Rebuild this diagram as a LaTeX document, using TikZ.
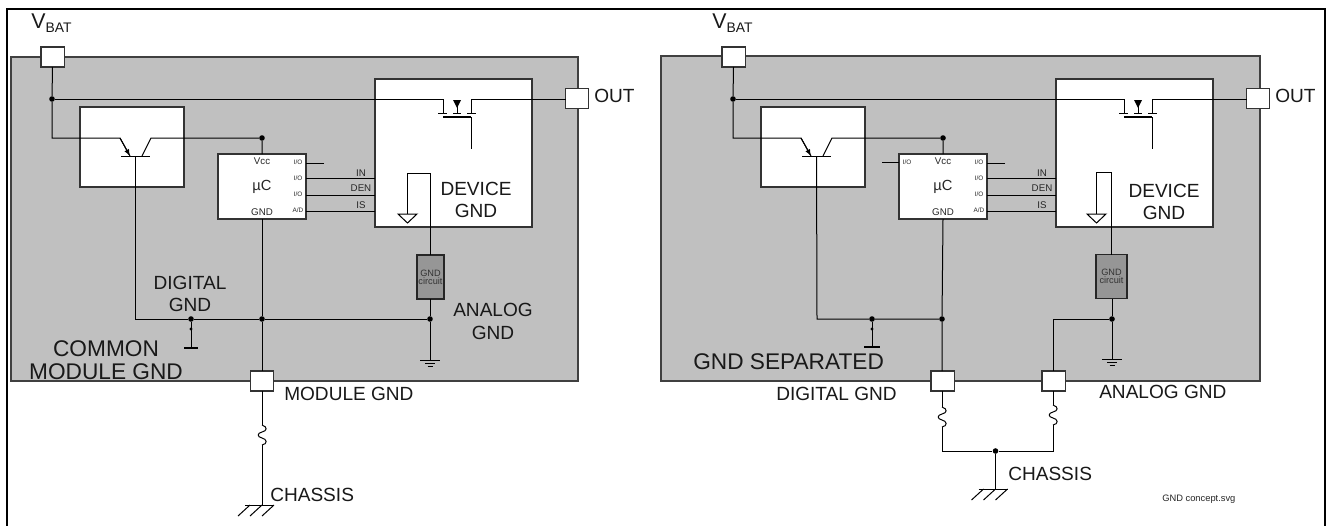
\documentclass[tikz,border=0pt]{standalone}
\usepackage{fontspec}
\setmainfont{Liberation Sans}
\usetikzlibrary{calc}
\newcommand{\fsz}[1]{\fontsize{#1}{#1}\selectfont}
\tikzset{
  x=0.75pt,y=-0.75pt,
  wire/.style={draw=black,line width=0.75pt},
  panelbox/.style={draw=black!75,fill=panelgray,line width=0.9pt},
  whitebox/.style={draw=black!80,fill=white,line width=0.9pt,inner sep=0pt,outer sep=0pt},
  portbox/.style={whitebox,minimum width=17.4pt,minimum height=15pt},
  gndbox/.style={draw=black!85,fill=gndgray,line width=0.9pt,inner sep=0pt,outer sep=0pt,minimum height=33pt,align=center,font=\fsz{6.9},text=black!80},
  dot/.style={circle,fill=black,inner sep=0pt,minimum size=4.2pt},
  tinydot/.style={circle,fill=black,inner sep=0pt,minimum size=2.4pt},
  big/.style={inner sep=0pt,font=\fsz{14.3},align=center,text=black!90},
  huge/.style={inner sep=0pt,font=\fsz{17},align=center,text=black!90},
  mid/.style={inner sep=0pt,font=\fsz{7.3},text=black!85},
  tiny/.style={inner sep=0pt,font=\fsz{4.8},text=black!85},
  wavepic/.pic={\draw[wire] (0,0) .. controls (6,2) and (5,6) .. (0,7) .. controls (-5,8) and (-5,12) .. (0,13) .. controls (5,14) and (6,19) .. (0,20);},
  chassispic/.pic={\draw[wire] (-17,0) -- (12,0);
     \draw[wire] (-12,0) -- (-24,11) (0,0) -- (-12,11) (12,0) -- (0,11);},
  earthpic/.pic={\draw[wire] (-10,0) -- (10,0) (-5,3) -- (5,3) (-2.5,6) -- (2.5,6);},
}
\definecolor{panelgray}{HTML}{C0C0C0}
\definecolor{gndgray}{HTML}{969696}
% shared upper part of a module: #1 name prefix
\newcommand{\modulecore}[1]{%
  \node[portbox] (#1vbat) at (52.5,57) {};
  \node[big,font=\fsz{16}] (#1vlabel) at (51.5,23.5) {V\raisebox{-3pt}{\fsz{10.4}BAT}};
  \node[whitebox,minimum width=78pt,minimum height=60pt] (#1tbox) at (132,147) {};
  \node[whitebox,minimum width=66pt,minimum height=48.75pt] (#1uc) at (262,186.5) {};
  \node[whitebox,minimum width=117.75pt,minimum height=111pt] (#1dev) at (453.5,153) {};
  \node[portbox] (#1out) at (577,98.5) {};
  \node[big,anchor=west] (#1outl) at (594,96) {OUT};
  \node[dot] (#1d1) at (52,99) {};
  \node[dot] (#1d2) at (262,138) {};
  \coordinate (#1e0) at (52,138);
  \coordinate (#1e1) at (120,138);
  \coordinate (#1e2) at (130,156);
  \coordinate (#1c1) at (151,138);
  \coordinate (#1c2) at (142,156);
  \coordinate (#1b1) at (121,156.5);
  \coordinate (#1b2) at (150,156.5);
  \coordinate (#1g1) at (443,99);
  \coordinate (#1g2) at (443,113);
  \coordinate (#1s1) at (471,99);
  \coordinate (#1s2) at (471,113);
  \coordinate (#1m1) at (443,117);
  \coordinate (#1m2) at (471,117);
  \coordinate (#1m3) at (471,149);
  \coordinate (#1t1) at (457,100);
  \coordinate (#1t2) at (457,113);
  \draw[wire] (#1vbat.south) -- (#1d1) -- (#1e0) -- (#1e1) -- (#1e2);
  \draw[wire,-latex] (#1e1) -- (#1e2);
  \draw[wire] (#1d1) -- (#1g1) -- (#1g2);
  \draw[wire] (#1out.west) -- (#1s1 -| #1out.west) -- (#1s1) -- (#1s2);
  \draw[wire] (438,113) -- (447,113) (453,113) -- (461,113) (467,113) -- (476,113);
  \draw[wire,line width=1.1pt] (#1m1) -- (#1m2);
  \draw[wire] (#1m2) -- (#1m3);
  \draw[wire] (#1t1) -- (#1t2);
  \fill[black] (453,100) -- (461,100) -- (457,108) -- cycle;
  \draw[wire] (#1b1) -- (#1b2);
  \draw[wire] (#1c2) -- (#1c1) -- (#1d2) -- (#1uc.north);
  \node[mid] (#1vcc) at (262,161) {Vcc};
  \node[mid,font=\fsz{11}] (#1muc) at (262,187) {µC};
  \node[mid] (#1ucg) at (262,212) {GND};
  \node[tiny] (#1io1) at (298,162.5) {I/O};
  \node[tiny] (#1io2) at (298,178.5) {I/O};
  \node[tiny] (#1io3) at (298,194.5) {I/O};
  \node[tiny] (#1ad) at (298,210.5) {A/D};
  \coordinate (#1p0) at (324,163);
  \coordinate (#1p1a) at (306,178.5);
  \coordinate (#1p2a) at (306,195);
  \coordinate (#1p3a) at (306,211);
  \draw[wire] (#1p0) -- (#1p0 -| #1uc.east);
  \draw[wire] (#1p1a) -- (#1p1a -| #1dev.west);
  \draw[wire] (#1p2a) -- (#1p2a -| #1dev.west);
  \draw[wire] (#1p3a) -- (#1p3a -| #1dev.west);
  \node[mid] (#1in) at (361,173) {IN};
  \node[mid] (#1den) at (361,188.5) {DEN};
  \node[mid] (#1is) at (361,205.5) {IS};
}
\begin{document}
\begin{tikzpicture}
\useasboundingbox (0,0) rectangle (1331,525);
\path[fill=white] (0,0) rectangle (1331,525);
\draw[draw=black,line width=0.9pt] (7,530) -- (7,9) -- (1325,9) -- (1325,530);

% ---------- left module ----------
\draw[panelbox] (11,57) rectangle (578,381);
\modulecore{L}
% device ground
\coordinate (Lgt) at (407,214);
\coordinate (Lg1) at (407,173);
\coordinate (Lg2) at (430,173);
\node[gndbox,minimum width=20.3pt] (Lgc) at (430.5,277) {GND\\[-1pt]circuit};
\draw[wire] (Lgt) -- (Lg1) -- (Lg2) -- (Lgc.north -| Lg2);
\draw[wire,fill=white] (398,214) -- (417,214) -- (407.5,223) -- cycle;
\node[dot] (Ld3) at (430,319) {};
\node[dot] (Ld4) at (262,319) {};
\node[dot] (Ld5) at (191,319) {};
\coordinate (Lcor) at (135.5,319);
\coordinate (Lb) at (135.5,156.5);
\coordinate (Lear) at (430,360);
\coordinate (Lbar) at (191,348);
\node[tinydot] (Lsd) at (191,329) {};
\node[portbox] (Lmod) at (262,381) {};
\coordinate (Lw1) at (262,425);
\coordinate (Lw2) at (262,445);
\coordinate (Lch) at (262,505);
\draw[wire] (Lb) -- (Lcor) -- (Ld5) -- (Ld4) -- (Ld3);
\draw[wire] (Lgc.south -| Ld3) -- (Ld3) -- (Lear);
\draw[wire] (Luc.south) -- (Ld4) -- (Lmod.north);
\draw[wire] (Ld5) -- (Lbar);
\draw[line width=2.2pt] (184,348) -- (198,348);
\draw[wire] (Lmod.south) -- (Lw1);
\pic at (Lw1) {wavepic};
\draw[wire] (Lw2) -- (Lch);
\pic at (Lch) {chassispic};
\pic at (Lear) {earthpic};
\node[big] (Ldg) at (190,294) {DIGITAL\\[2pt]GND};
\node[big] (Lag) at (493,321) {ANALOG\\[3pt]GND};
\node[huge] (Lcm) at (106,360) {COMMON\\[0.3pt]MODULE GND};
\node[big] (Ldv) at (476,200) {DEVICE\\[2pt]GND};
\node[big,anchor=west] (Lml) at (284,394) {MODULE GND};
\node[big,anchor=west] (Lcs) at (270,495) {CHASSIS};

% ---------- right module ----------
\draw[panelbox] (661,56) rectangle (1260,381);
\begin{scope}[shift={(681,0)}]
\modulecore{R}
\end{scope}
\coordinate (Rp) at (882,162.5);
\draw[wire] (Rp) -- (Rp -| Ruc.west);
\node[tiny] (Rio0) at (907,162.5) {I/O};
\coordinate (Rgt) at (1096,214);
\coordinate (Rg1) at (1096,172.5);
\coordinate (Rg2) at (1111,172.5);
\node[gndbox,minimum width=23.25pt] (Rgc) at (1111.5,276.5) {GND\\[-1pt]circuit};
\draw[wire] (Rgt) -- (Rg1) -- (Rg2) -- (Rgc.north -| Rg2);
\draw[wire,fill=white] (1087,214) -- (1106,214) -- (1096.5,223) -- cycle;
\node[dot] (Rd3) at (1112,319) {};
\node[dot] (Rd4) at (942,319) {};
\node[dot] (Rd5) at (872,319) {};
\coordinate (Rcor) at (817,319);
\coordinate (Rb) at (816.5,156.5);
\coordinate (Rear) at (1112,359);
\coordinate (Rbar) at (872,347);
\node[tinydot] (Rsd) at (872,329) {};
\node[portbox] (Rdgp) at (942.5,381) {};
\node[portbox] (Ragp) at (1053.5,381) {};
\coordinate (Racor) at (1053,319);
\coordinate (Rw1) at (942,407);
\coordinate (Rw2) at (942,427);
\coordinate (Rw3) at (1053,405);
\coordinate (Rw4) at (1053,425);
\coordinate (Rbl) at (942,451);
\coordinate (Rbr) at (1053,451);
\node[dot] (Rd6) at (995.5,451) {};
\coordinate (Rch) at (995.5,489);
\draw[wire] (Rb) -- (Rcor) -- (Rd5) -- (Rd4);
\draw[wire] (Ruc.south) -- (Rd4) -- (Rdgp.north -| Rd4);
\draw[wire] (Rgc.south -| Rd3) -- (Rd3) -- (Rear);
\draw[wire] (Rd3) -- (Racor) -- (Ragp.north -| Racor);
\draw[wire] (Rd5) -- (Rbar);
\draw[line width=2.2pt] (864,347) -- (880,347);
\draw[wire] (Rdgp.south -| Rw1) -- (Rw1);
\draw[wire] (Ragp.south -| Rw3) -- (Rw3);
\pic at (Rw1) {wavepic};
\pic at (Rw3) {wavepic};
\draw[wire] (Rw2) -- (Rbl) -- (Rd6) -- (Rbr) -- (Rw4);
\draw[wire] (Rd6) -- (Rch);
\pic at (Rch) {chassispic};
\pic at (Rear) {earthpic};
\node[big] (Rdv) at (1164,202) {DEVICE\\[2pt]GND};
\node[huge,anchor=west] (Rsp) at (693,362) {GND SEPARATED};
\node[big,anchor=west] (Rdl) at (776,394) {DIGITAL GND};
\node[big,anchor=west] (Ral) at (1099,392) {ANALOG GND};
\node[big,anchor=west] (Rcs) at (1008,474) {CHASSIS};
\node[mid,anchor=west,font=\fsz{7}] (Rfn) at (1162,499) {GND concept.svg};
\end{tikzpicture}
\end{document}
